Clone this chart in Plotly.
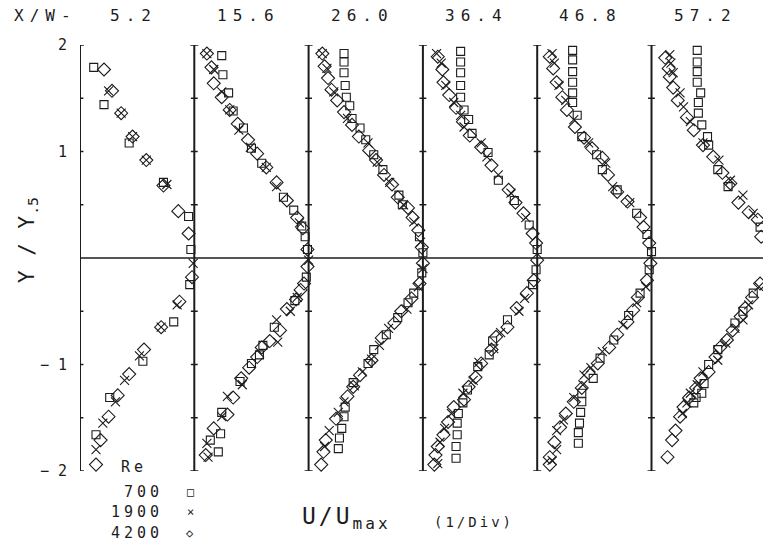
import plotly.graph_objects as go

# ---------------- data ----------------
XW_LABELS = ["5.2", "15.6", "26.0", "36.4", "46.8", "57.2"]
RE_LABELS = ["700", "1900", "4200"]
Y_TICKVALS = [-2, -1, 1, 2]
Y_TICKTEXT = ["\u2212 2", "\u2212 1", "1", "2"]
MINOR_TICKS = [-1.5, -1.0, -0.5, 0.5, 1.0, 1.5]
END_TICKS = [-2.0, 2.0]

# each list: (Y/Y.5, U/Umax) pairs
P052_RE700 = [(1.79, 0.12), (1.44, 0.21), (1.08, 0.43), (0.71, 0.73), (0.39, 0.95), (0.08, 0.97),
              (-0.25, 0.96), (-0.60, 0.82), (-0.97, 0.55), (-1.31, 0.26), (-1.66, 0.14)]
P052_RE1900 = [(1.57, 0.25), (1.36, 0.36), (1.14, 0.46), (0.92, 0.58), (0.69, 0.76), (-0.05, 0.99),
               (-0.44, 0.85), (-0.65, 0.71), (-0.92, 0.52), (-1.15, 0.39), (-1.35, 0.31), (-1.55, 0.20),
               (-1.80, 0.14)]
P052_RE4200 = [(1.77, 0.21), (1.57, 0.28), (1.36, 0.36), (1.14, 0.46), (0.92, 0.58), (0.68, 0.73),
               (0.44, 0.86), (0.23, 0.95), (-0.18, 0.98), (-0.41, 0.87), (-0.65, 0.71), (-0.86, 0.56),
               (-1.09, 0.43), (-1.29, 0.33), (-1.49, 0.25), (-1.71, 0.18), (-1.94, 0.14)]

P156_RE700 = [(1.90, 0.24), (1.72, 0.25), (1.55, 0.30), (1.38, 0.34), (1.22, 0.43), (1.03, 0.50),
              (0.89, 0.59), (0.57, 0.78), (0.45, 0.87), (0.30, 0.94), (0.20, 0.97), (0.08, 0.99),
              (-0.18, 0.98), (-0.40, 0.88), (-0.65, 0.70), (-0.82, 0.60), (-0.91, 0.57), (-0.99, 0.50),
              (-1.16, 0.40), (-1.45, 0.24), (-1.65, 0.23), (-1.71, 0.14), (-1.82, 0.21)]
P156_RE1900 = [(1.92, 0.11), (1.77, 0.17), (1.56, 0.24), (1.39, 0.31), (1.20, 0.39), (1.04, 0.49),
               (0.85, 0.63), (0.67, 0.72), (0.33, 0.92), (-0.02, 1.00), (-0.37, 0.90), (-0.50, 0.84),
               (-0.58, 0.72), (-0.79, 0.73), (-1.19, 0.42), (-1.30, 0.29), (-1.49, 0.24), (-1.74, 0.11),
               (-1.87, 0.12)]
P156_RE4200 = [(1.92, 0.11), (1.79, 0.15), (1.64, 0.17), (1.51, 0.24), (1.39, 0.31), (1.26, 0.38),
               (1.11, 0.47), (0.98, 0.55), (0.85, 0.63), (0.71, 0.72), (0.54, 0.81), (0.38, 0.90),
               (0.28, 0.95), (0.08, 0.99), (-0.08, 0.99), (-0.24, 0.96), (-0.30, 0.93), (-0.39, 0.89),
               (-0.48, 0.81), (-0.68, 0.75), (-0.78, 0.66), (-0.84, 0.59), (-0.93, 0.55), (-1.03, 0.48),
               (-1.13, 0.41), (-1.31, 0.34), (-1.47, 0.29), (-1.60, 0.17), (-1.85, 0.10)]

P260_RE700 = [(1.92, 0.31), (1.84, 0.31), (1.74, 0.31), (1.62, 0.32), (1.51, 0.33), (1.43, 0.36),
              (1.31, 0.38), (1.22, 0.45), (1.11, 0.50), (0.97, 0.57), (0.83, 0.65), (0.59, 0.79),
              (0.50, 0.82), (0.20, 0.97), (0.05, 1.00), (-0.14, 0.99), (-0.33, 0.92), (-0.42, 0.87),
              (-0.56, 0.78), (-0.72, 0.68), (-0.86, 0.57), (-0.99, 0.52), (-1.17, 0.39), (-1.40, 0.32),
              (-1.49, 0.31), (-1.60, 0.29), (-1.69, 0.27), (-1.79, 0.26)]
P260_RE1900 = [(1.92, 0.12), (1.78, 0.16), (1.56, 0.22), (1.31, 0.34), (1.08, 0.52), (0.90, 0.60),
               (0.71, 0.71), (0.50, 0.83), (0.34, 0.92), (0.15, 0.98), (-0.10, 1.00), (-0.27, 0.96),
               (-0.48, 0.86), (-0.66, 0.70), (-0.82, 0.62), (-0.95, 0.55), (-1.07, 0.47), (-1.20, 0.40),
               (-1.35, 0.31), (-1.45, 0.26), (-1.62, 0.18), (-1.77, 0.14)]
P260_RE4200 = [(1.92, 0.12), (1.80, 0.14), (1.69, 0.17), (1.58, 0.20), (1.48, 0.25), (1.37, 0.31),
               (1.25, 0.38), (1.14, 0.44), (1.01, 0.53), (0.92, 0.59), (0.78, 0.66), (0.69, 0.73),
               (0.57, 0.78), (0.47, 0.87), (0.38, 0.91), (0.26, 0.96), (0.10, 0.99), (-0.05, 1.00),
               (-0.24, 0.97), (-0.38, 0.90), (-0.50, 0.81), (-0.61, 0.75), (-0.75, 0.64), (-0.96, 0.55),
               (-1.10, 0.45), (-1.21, 0.39), (-1.30, 0.34), (-1.51, 0.24), (-1.71, 0.15), (-1.82, 0.13),
               (-1.94, 0.11)]

P364_RE700 = [(1.94, 0.33), (1.84, 0.33), (1.74, 0.33), (1.62, 0.33), (1.51, 0.33), (1.39, 0.36),
              (1.30, 0.40), (1.17, 0.43), (0.99, 0.57), (0.73, 0.66), (0.54, 0.80), (0.31, 0.93),
              (0.08, 1.00), (-0.11, 0.99), (-0.25, 0.96), (-0.58, 0.74), (-0.78, 0.61), (-0.91, 0.58),
              (-1.02, 0.48), (-1.24, 0.39), (-1.36, 0.35), (-1.46, 0.31), (-1.55, 0.30), (-1.66, 0.30),
              (-1.77, 0.29), (-1.88, 0.29)]
P364_RE1900 = [(1.92, 0.12), (1.83, 0.16), (1.62, 0.20), (1.46, 0.27), (1.34, 0.33), (1.23, 0.36),
               (1.08, 0.51), (0.95, 0.56), (0.78, 0.66), (0.61, 0.77), (0.38, 0.90), (-0.38, 0.89),
               (-0.50, 0.84), (-0.70, 0.68), (-0.85, 0.62), (-0.98, 0.49), (-1.15, 0.44), (-1.27, 0.35),
               (-1.46, 0.25), (-1.60, 0.19), (-1.73, 0.15), (-1.93, 0.13)]
P364_RE4200 = [(1.89, 0.13), (1.77, 0.17), (1.65, 0.18), (1.53, 0.23), (1.41, 0.29), (1.28, 0.35),
               (1.15, 0.41), (1.04, 0.51), (0.87, 0.60), (0.64, 0.75), (0.52, 0.81), (0.42, 0.88),
               (0.23, 0.96), (0.14, 0.99), (-0.02, 1.00), (-0.21, 0.97), (-0.33, 0.91), (-0.47, 0.82),
               (-0.65, 0.74), (-0.74, 0.64), (-0.86, 0.60), (-0.99, 0.51), (-1.12, 0.46), (-1.21, 0.40),
               (-1.33, 0.36), (-1.40, 0.27), (-1.54, 0.22), (-1.66, 0.18), (-1.77, 0.13), (-1.85, 0.11),
               (-1.94, 0.10)]

P468_RE700 = [(1.95, 0.31), (1.86, 0.31), (1.75, 0.31), (1.65, 0.31), (1.55, 0.31), (1.46, 0.31),
              (1.34, 0.35), (1.14, 0.39), (0.97, 0.52), (0.83, 0.57), (0.64, 0.70), (0.42, 0.87),
              (0.22, 0.96), (0.06, 1.00), (-0.11, 0.98), (-0.33, 0.90), (-0.54, 0.80), (-0.77, 0.67),
              (-0.94, 0.55), (-1.13, 0.49), (-1.27, 0.39), (-1.35, 0.39), (-1.45, 0.38), (-1.55, 0.37),
              (-1.64, 0.36), (-1.74, 0.36)]
P468_RE1900 = [(1.92, 0.13), (1.83, 0.15), (1.62, 0.19), (1.48, 0.25), (1.30, 0.32), (1.08, 0.45),
               (0.89, 0.60), (0.67, 0.66), (0.52, 0.81), (-0.27, 0.95), (-0.42, 0.87), (-0.63, 0.75),
               (-0.88, 0.57), (-1.03, 0.47), (-1.10, 0.41), (-1.19, 0.40), (-1.31, 0.32), (-1.52, 0.23),
               (-1.62, 0.17), (-1.80, 0.17), (-1.90, 0.13)]
P468_RE4200 = [(1.89, 0.11), (1.78, 0.14), (1.65, 0.17), (1.51, 0.22), (1.39, 0.26), (1.23, 0.33),
               (1.13, 0.41), (1.03, 0.48), (0.94, 0.57), (0.78, 0.62), (0.62, 0.70), (0.53, 0.79),
               (0.38, 0.90), (0.29, 0.93), (0.14, 0.98), (-0.05, 0.99), (-0.21, 0.96), (-0.37, 0.88),
               (-0.49, 0.84), (-0.60, 0.79), (-0.72, 0.70), (-0.84, 0.63), (-0.99, 0.53), (-1.08, 0.45),
               (-1.22, 0.39), (-1.35, 0.32), (-1.46, 0.25), (-1.59, 0.20), (-1.73, 0.15), (-1.87, 0.11),
               (-1.94, 0.11)]

P572_RE700 = [(1.95, 0.40), (1.84, 0.40), (1.75, 0.40), (1.65, 0.40), (1.55, 0.43), (1.46, 0.41),
              (1.36, 0.41), (1.25, 0.44), (1.14, 0.49), (1.06, 0.50), (0.83, 0.58), (0.67, 0.67),
              (0.29, 0.95), (0.05, 1.00), (-0.33, 0.89), (-0.50, 0.80), (-0.61, 0.73), (-0.86, 0.58),
              (-1.00, 0.50), (-1.18, 0.46), (-1.27, 0.44), (-1.31, 0.39), (-1.36, 0.37)]
P572_RE1900 = [(1.91, 0.16), (1.83, 0.17), (1.74, 0.19), (1.55, 0.25), (1.42, 0.28), (1.28, 0.34),
               (1.08, 0.45), (0.92, 0.59), (0.73, 0.69), (0.59, 0.80), (0.42, 0.89), (-0.27, 0.94),
               (-0.44, 0.85), (-0.58, 0.80), (-0.66, 0.73), (-0.80, 0.65), (-0.96, 0.58), (-1.07, 0.45),
               (-1.19, 0.40), (-1.27, 0.34), (-1.36, 0.31), (-1.46, 0.27)]
P572_RE4200 = [(1.88, 0.12), (1.78, 0.15), (1.70, 0.16), (1.60, 0.19), (1.48, 0.23), (1.32, 0.31),
               (1.20, 0.37), (1.06, 0.45), (0.95, 0.54), (0.80, 0.62), (0.70, 0.69), (0.52, 0.76),
               (0.43, 0.85), (0.36, 0.93), (0.20, 0.96), (-0.10, 0.99), (-0.24, 0.95), (-0.37, 0.88),
               (-0.47, 0.82), (-0.55, 0.78), (-0.68, 0.71), (-0.77, 0.66), (-0.84, 0.60), (-0.93, 0.56),
               (-1.07, 0.50), (-1.13, 0.43), (-1.22, 0.39), (-1.31, 0.33), (-1.40, 0.28), (-1.49, 0.25),
               (-1.62, 0.21), (-1.71, 0.18), (-1.87, 0.14)]

PROFILES = [
    (P052_RE700, P052_RE1900, P052_RE4200),
    (P156_RE700, P156_RE1900, P156_RE4200),
    (P260_RE700, P260_RE1900, P260_RE4200),
    (P364_RE700, P364_RE1900, P364_RE4200),
    (P468_RE700, P468_RE1900, P468_RE4200),
    (P572_RE700, P572_RE1900, P572_RE4200),
]

# ---------------- style ----------------
INK = "#1c1c1c"
FONT = "DejaVu Sans Mono"
W, H = 763, 542
ML, MR, MT, MB = 80, 0, 45, 71
PX_PER_UNIT = 114.3
XMAX = (W - ML - MR) / PX_PER_UNIT

MARKERS = [
    dict(symbol="square-open", size=8, color=INK, line=dict(color=INK, width=1.1)),
    dict(symbol="x-thin", size=9, color=INK, line=dict(color=INK, width=1.1)),
    dict(symbol="diamond-open", size=10, color=INK, line=dict(color=INK, width=1.1)),
]


def xp(px):
    return (px - ML) / (W - ML - MR)


def yp(py):
    return (H - MB - py) / (H - MT - MB)


def spaced(txt, ls):
    return f'<span style="letter-spacing:{ls}px">{txt}</span>'


fig = go.Figure()
for i, series in enumerate(PROFILES):
    for k, pts in enumerate(series):
        fig.add_trace(go.Scatter(
            x=[u + i for (_, u) in pts],
            y=[y for (y, _) in pts],
            mode="markers",
            marker=MARKERS[k],
            name=RE_LABELS[k],
            showlegend=False,
            cliponaxis=False,
            hoverinfo="skip",
        ))

shapes = []
for i in range(len(XW_LABELS)):
    shapes.append(dict(type="line", xref="x", yref="y", x0=i, x1=i, y0=-2, y1=2,
                       line=dict(color=INK, width=2)))
    for t in MINOR_TICKS:
        shapes.append(dict(type="line", xref="x", yref="y", x0=i - 0.03, x1=i + 0.03, y0=t, y1=t,
                           line=dict(color=INK, width=1.5)))
    for t in END_TICKS:
        shapes.append(dict(type="line", xref="x", yref="y", x0=i - 0.035, x1=i + 0.035, y0=t, y1=t,
                           line=dict(color=INK, width=1.5)))
shapes.append(dict(type="line", xref="x", yref="y", x0=0, x1=XMAX, y0=0, y1=0,
                   line=dict(color=INK, width=1.5)))

ann = []
ann.append(dict(text=spaced("X/W-", 6), x=xp(12), y=yp(15), xref="paper", yref="paper",
                xanchor="left", yanchor="middle", showarrow=False,
                font=dict(family=FONT, size=16, color=INK)))
for i, lab in enumerate(XW_LABELS):
    ann.append(dict(text=spaced(lab, 6), x=i + 0.47, y=yp(15), xref="x", yref="paper",
                    xanchor="center", yanchor="middle", showarrow=False,
                    font=dict(family=FONT, size=16, color=INK)))
ann.append(dict(text=spaced("Y / Y", 1) + "<sub>.5</sub>", x=xp(28), y=yp(240),
                xref="paper", yref="paper", textangle=-90, showarrow=False,
                xanchor="center", yanchor="middle",
                font=dict(family=FONT, size=21, color=INK)))
ann.append(dict(text=spaced("Re", 4), x=xp(119), y=yp(467), xref="paper", yref="paper",
                xanchor="left", yanchor="middle", showarrow=False,
                font=dict(family=FONT, size=15, color=INK)))
LEG_Y = [492, 512, 533]
LEG_SYM = ["\u25a1", "\u00d7", "\u25c7"]
for k, lab in enumerate(RE_LABELS):
    ann.append(dict(text=spaced(lab, 4), x=xp(165), y=yp(LEG_Y[k]), xref="paper", yref="paper",
                    xanchor="right", yanchor="middle", showarrow=False,
                    font=dict(family=FONT, size=15, color=INK)))
    ann.append(dict(text=LEG_SYM[k], x=xp(190), y=yp(LEG_Y[k]), xref="paper", yref="paper",
                    xanchor="center", yanchor="middle", showarrow=False,
                    font=dict(family=FONT, size=12, color=INK)))
ann.append(dict(text=spaced("U/U", 3) + "<sub>" + spaced("max", 3) + "</sub>", x=xp(300), y=yp(518),
                xref="paper", yref="paper", xanchor="left", yanchor="middle", showarrow=False,
                font=dict(family=FONT, size=23, color=INK)))
ann.append(dict(text=spaced("(1/Div)", 3), x=xp(432), y=yp(522), xref="paper", yref="paper",
                xanchor="left", yanchor="middle", showarrow=False,
                font=dict(family=FONT, size=14, color=INK)))

fig.update_layout(
    width=W, height=H,
    margin=dict(l=ML, r=MR, t=MT, b=MB),
    paper_bgcolor="white", plot_bgcolor="white",
    showlegend=False,
    xaxis=dict(range=[0, XMAX], visible=False, fixedrange=True),
    yaxis=dict(range=[-2, 2], showgrid=False, zeroline=False, showline=False,
               tickvals=Y_TICKVALS, ticktext=Y_TICKTEXT, ticks="",
               ticklabelstandoff=12,
               tickfont=dict(family=FONT, size=15, color=INK), fixedrange=True),
    shapes=shapes,
    annotations=ann,
)

fig.write_html("out.html")
